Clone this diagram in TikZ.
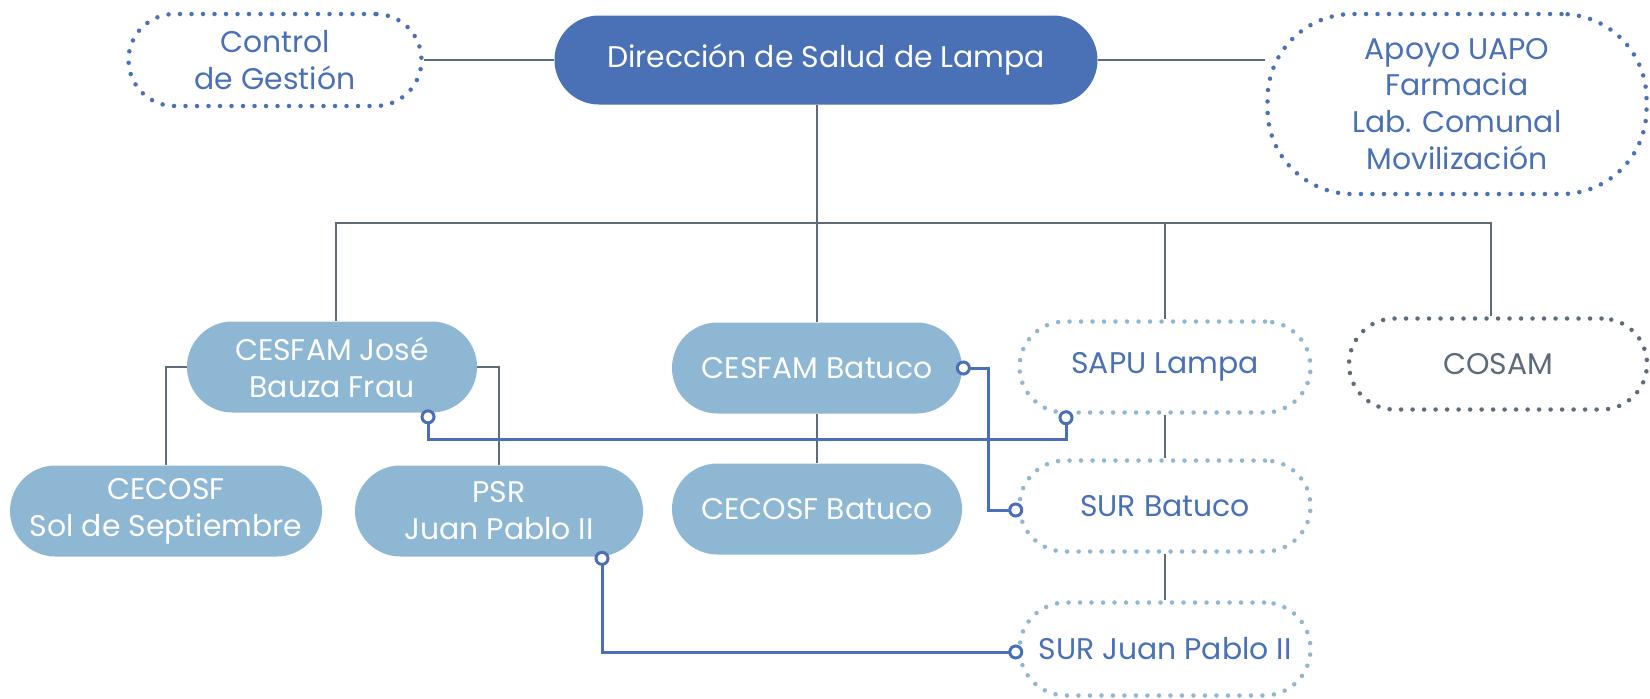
\documentclass[tikz,border=0pt]{standalone}
\usepackage{fontspec}
\setmainfont{Poppins}
\usepackage{tikz}
\usetikzlibrary{arrows.meta, backgrounds}
\definecolor{dirblue}{HTML}{4A71B5}
\definecolor{unitblue}{HTML}{8DB7D3}
\definecolor{linegray}{HTML}{5F6B78}
\definecolor{linkblue}{HTML}{4A6FB8}
\definecolor{cosamgray}{HTML}{5D6B7A}

\begin{document}
\begin{tikzpicture}[
    unit/.style={rectangle, rounded corners=0.91cm, minimum width=5.8cm, minimum height=1.82cm, align=center, inner sep=0pt, font=\fontsize{17}{21}\selectfont},
    solid unit/.style={unit, fill=unitblue, text=white},
    dotted unit/.style={unit, draw=#1, fill=white, line width=0.09cm, dash pattern=on 0pt off 0.23cm, line cap=round},
    tree/.style={draw=linegray, line width=1.6pt},
    link/.style={draw=linkblue, line width=1.7pt, {Circle[length=0.3cm, width=0.3cm, fill=white]}-{Circle[length=0.3cm, width=0.3cm, fill=white]}}
]
    \useasboundingbox (0,0) rectangle (33,-13.96);

    % Top level
    \node[unit, fill=dirblue, text=white, minimum width=10.86cm, minimum height=1.78cm, rounded corners=0.89cm] (dir) at (16.52,-1.20) {Dirección de Salud de Lampa};
    \node[dotted unit=dirblue, text=dirblue, minimum width=5.86cm, minimum height=1.84cm, rounded corners=0.92cm] (control) at (5.50,-1.20) {Control\\de Gestión};
    \node[dotted unit=dirblue, text=dirblue, minimum width=7.58cm, minimum height=3.60cm, rounded corners=1.7cm] (apoyo) at (29.14,-2.08) {Apoyo UAPO\\Farmacia\\Lab. Comunal\\Movilización};

    % Centres
    \node[solid unit] (cesfamJ) at (6.64,-7.34) {CESFAM José\\Bauza Frau};
    \node[solid unit, minimum width=6.24cm] (cecosfS) at (3.32,-10.22) {CECOSF\\Sol de Septiembre};
    \node[solid unit, minimum width=5.76cm] (psr) at (9.98,-10.22) {PSR\\Juan Pablo II};
    \node[solid unit] (cesfamB) at (16.34,-7.36) {CESFAM Batuco};
    \node[solid unit] (cecosfB) at (16.34,-10.18) {CECOSF Batuco};

    % Emergency and mental health
    \node[dotted unit=unitblue, text=dirblue, minimum width=5.82cm] (sapu) at (23.30,-7.34) {SAPU Lampa};
    \node[dotted unit=unitblue, text=dirblue, minimum width=5.82cm] (surB) at (23.30,-10.12) {SUR Batuco};
    \node[dotted unit=unitblue, text=dirblue, minimum width=5.82cm, minimum height=1.86cm, rounded corners=0.93cm] (surJP) at (23.30,-12.98) {SUR Juan Pablo II};
    \node[dotted unit=cosamgray, text=cosamgray, minimum width=5.96cm] (cosam) at (29.96,-7.28) {COSAM};

    \coordinate (bus) at (16.36,-4.46);

    % Hierarchy lines
    \begin{scope}[on background layer]
        \draw[tree] (control) -- (dir);
        \draw[tree] (dir.east) -- (dir.east -| apoyo.west);
        \draw[tree] (cesfamB.north |- dir.south) -- (cesfamB.north);
        \draw[tree] ([xshift=0.08cm]cesfamJ.north) |- (bus) -| ([xshift=-0.14cm]cosam.north);
        \draw[tree] (sapu.north) -- (sapu.north |- bus);
        \draw[tree] (cesfamJ.west) -| (cecosfS.north);
        \draw[tree] (cesfamJ.east) -| (psr.north);
        \draw[tree] (cesfamB) -- (cecosfB);
        \draw[tree] (sapu) -- (surB);
        \draw[tree] (surB) -- (surJP);
    \end{scope}

    % Links
    \draw[link] ([shift={(1.92,0.07)}]cesfamJ.south) -- ++(0,-0.6) -| ([shift={(-1.98,0.09)}]sapu.south);
    \draw[link] ([xshift=-0.13cm]cesfamB.east) -- ++(0.65,0) |- ([shift={(0.12,-0.08)}]surB.west);
    \draw[link] ([shift={(2.06,0.12)}]psr.south) |- ([shift={(0.12,-0.06)}]surJP.west);
\end{tikzpicture}
\end{document}
